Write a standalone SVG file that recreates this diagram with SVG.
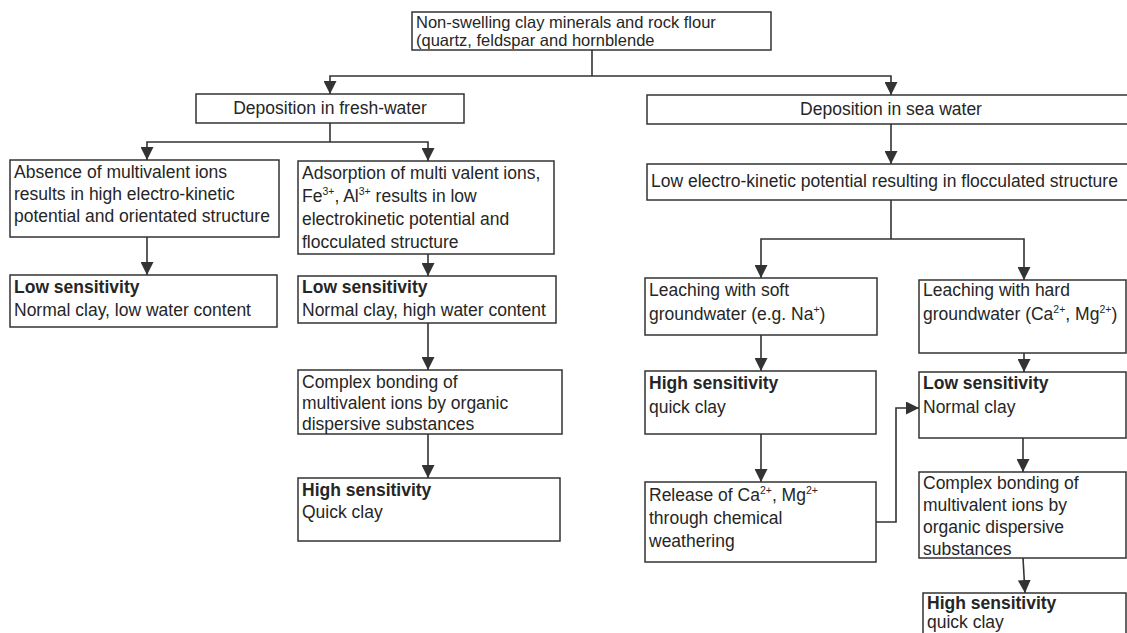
<svg xmlns="http://www.w3.org/2000/svg" width="1127" height="633" viewBox="0 0 1127 633">
<style>
.box{fill:#fff;stroke:#333;stroke-width:1.5}
.t{font-family:"Liberation Sans",Arial,sans-serif;font-size:17.5px;fill:#262626}
.s{font-size:16.5px}
.b{font-weight:bold}
.c{text-anchor:middle}
.sup{font-size:10.5px}
.ln{fill:none;stroke:#333;stroke-width:1.6}
.ar{marker-end:url(#ah)}
</style>
<defs>
<marker id="ah" markerUnits="userSpaceOnUse" markerWidth="13" markerHeight="13" refX="13" refY="6.5" orient="auto">
<path d="M0,0 L13,6.5 L0,13 z" fill="#333"/>
</marker>
</defs>
<rect width="1127" height="633" fill="#fff"/>

<g id="connectors">
<path class="ln" d="M592,50 V76"/>
<path class="ln ar" d="M592,76 H330 V94"/>
<path class="ln ar" d="M592,76 H891 V95"/>
<path class="ln" d="M330,123 V142"/>
<path class="ln ar" d="M330,142 H147 V160"/>
<path class="ln ar" d="M330,142 H428 V161"/>
<path class="ln ar" d="M147,237 V275"/>
<path class="ln ar" d="M428,254 V276"/>
<path class="ln ar" d="M428,323 V370"/>
<path class="ln ar" d="M428,434 V478"/>
<path class="ln ar" d="M891,124 V164"/>
<path class="ln" d="M891,200 V239"/>
<path class="ln ar" d="M891,239 H761 V278"/>
<path class="ln ar" d="M891,239 H1024 V280"/>
<path class="ln ar" d="M761,335 V371"/>
<path class="ln ar" d="M761,434 V482"/>
<path class="ln ar" d="M876,522 H896 V408 H919"/>
<path class="ln ar" d="M1024,353 V372"/>
<path class="ln ar" d="M1023,438 V472"/>
<path class="ln ar" d="M1023,558 L1025,593"/>
</g>

<g id="n-top">
<rect class="box" x="412" y="12" width="359" height="38"/>
<text class="t s" x="416" y="28">Non-swelling clay minerals and rock flour</text>
<text class="t s" x="416" y="45.5">(quartz, feldspar and hornblende</text>
</g>

<g id="n-fresh">
<rect class="box" x="196" y="94" width="268" height="29"/>
<text class="t c" x="330" y="114">Deposition in fresh-water</text>
</g>

<g id="n-sea">
<rect class="box" x="647" y="95" width="490" height="29"/>
<text class="t c" x="891" y="115">Deposition in sea water</text>
</g>

<g id="n-absence">
<rect class="box" x="10" y="160" width="269" height="77"/>
<text class="t" x="14" y="178">Absence of multivalent ions</text>
<text class="t" x="14" y="200">results in high electro-kinetic</text>
<text class="t" x="14" y="222">potential and orientated structure</text>
</g>

<g id="n-adsorption">
<rect class="box" x="298" y="161" width="256" height="93"/>
<text class="t" x="302" y="179">Adsorption of multi valent ions,</text>
<text class="t" x="302" y="202">Fe<tspan class="sup" dy="-7">3+</tspan><tspan dy="7">, Al</tspan><tspan class="sup" dy="-7">3+</tspan><tspan dy="7"> results in low</tspan></text>
<text class="t" x="302" y="225">electrokinetic potential and</text>
<text class="t" x="302" y="248">flocculated structure</text>
</g>

<g id="n-low-left">
<rect class="box" x="10" y="275" width="267" height="52"/>
<text class="t b" x="14" y="293">Low sensitivity</text>
<text class="t" x="14" y="316">Normal clay, low water content</text>
</g>

<g id="n-low-mid">
<rect class="box" x="298" y="276" width="258" height="47"/>
<text class="t b" x="302" y="293">Low sensitivity</text>
<text class="t" x="302" y="316">Normal clay, high water content</text>
</g>

<g id="n-complex-mid">
<rect class="box" x="298" y="370" width="264" height="64"/>
<text class="t" x="302" y="388">Complex bonding of</text>
<text class="t" x="302" y="409">multivalent ions by organic</text>
<text class="t" x="302" y="430">dispersive substances</text>
</g>

<g id="n-high-mid">
<rect class="box" x="298" y="478" width="262" height="63"/>
<text class="t b" x="302" y="496">High sensitivity</text>
<text class="t" x="302" y="518">Quick clay</text>
</g>

<g id="n-lowek">
<rect class="box" x="647" y="164" width="490" height="36"/>
<text class="t" x="651" y="187">Low electro-kinetic potential resulting in flocculated structure</text>
</g>

<g id="n-soft">
<rect class="box" x="645" y="278" width="232" height="57"/>
<text class="t" x="649" y="296">Leaching with soft</text>
<text class="t" x="649" y="320">groundwater (e.g. Na<tspan class="sup" dy="-7">+</tspan><tspan dy="7">)</tspan></text>
</g>

<g id="n-hard">
<rect class="box" x="919" y="280" width="207" height="73"/>
<text class="t" x="923" y="296">Leaching with hard</text>
<text class="t" x="923" y="320">groundwater (Ca<tspan class="sup" dy="-7">2+</tspan><tspan dy="7">, Mg</tspan><tspan class="sup" dy="-7">2+</tspan><tspan dy="7">)</tspan></text>
</g>

<g id="n-high-soft">
<rect class="box" x="645" y="371" width="231" height="63"/>
<text class="t b" x="649" y="389">High sensitivity</text>
<text class="t" x="649" y="413">quick clay</text>
</g>

<g id="n-low-hard">
<rect class="box" x="919" y="372" width="207" height="66"/>
<text class="t b" x="923" y="389">Low sensitivity</text>
<text class="t" x="923" y="413">Normal clay</text>
</g>

<g id="n-release">
<rect class="box" x="645" y="482" width="231" height="80"/>
<text class="t" x="649" y="501">Release of Ca<tspan class="sup" dy="-7">2+</tspan><tspan dy="7">, Mg</tspan><tspan class="sup" dy="-7">2+</tspan></text>
<text class="t" x="649" y="524">through chemical</text>
<text class="t" x="649" y="547">weathering</text>
</g>

<g id="n-complex-right">
<rect class="box" x="919" y="472" width="207" height="86"/>
<text class="t" x="923" y="489">Complex bonding of</text>
<text class="t" x="923" y="511">multivalent ions by</text>
<text class="t" x="923" y="533">organic dispersive</text>
<text class="t" x="923" y="555">substances</text>
</g>

<g id="n-high-right">
<rect class="box" x="923" y="593" width="203" height="60"/>
<text class="t b" x="927" y="609">High sensitivity</text>
<text class="t" x="927" y="628">quick clay</text>
</g>
</svg>
